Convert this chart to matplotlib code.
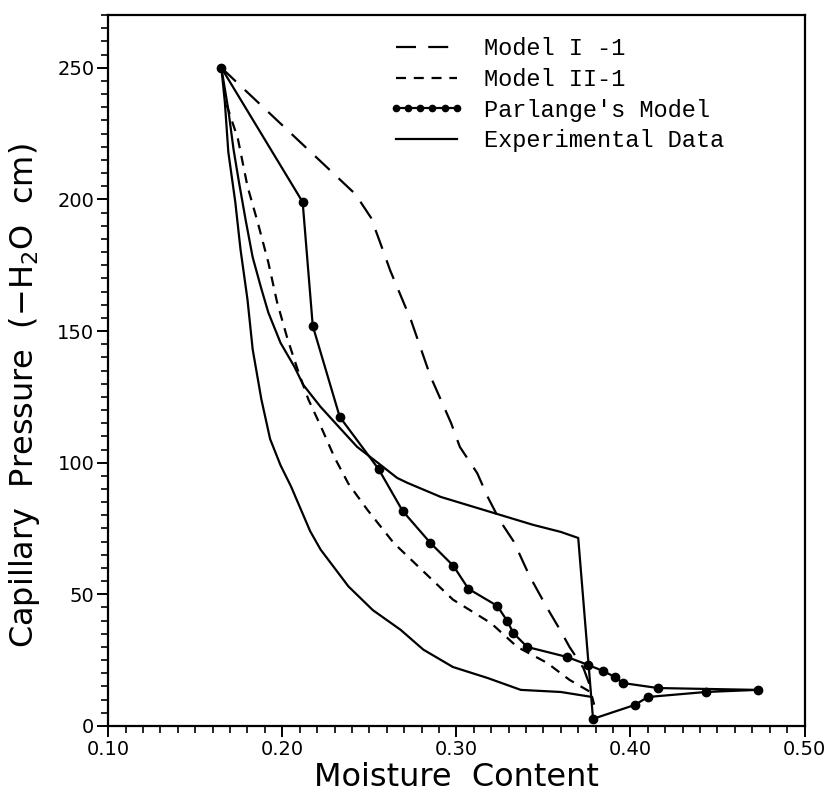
import numpy as np
import matplotlib.pyplot as plt
from matplotlib.ticker import MultipleLocator, FormatStrFormatter

# ── Data ────────────────────────────────────────────────────────

# Model I-1 (long dashes)
m1_theta = [0.165, 0.242, 0.251, 0.256, 0.262, 0.274, 0.285, 0.297, 0.302,
            0.312, 0.318, 0.325, 0.333, 0.342, 0.352, 0.360, 0.365, 0.373, 0.378]
m1_psi = [250, 202, 193, 184, 173, 154, 133, 115, 106,
          96, 87, 78, 70, 57, 45, 36, 30, 22, 13]

# Model II-1 (short dashes)
m2_theta = [0.168, 0.1745, 0.180, 0.186, 0.192, 0.197, 0.203, 0.209, 0.215,
            0.222, 0.230, 0.238, 0.249, 0.264, 0.279, 0.298, 0.320, 0.335,
            0.352, 0.365, 0.378]
m2_psi = [236, 223, 205, 191, 176, 161, 147, 135, 124,
          114, 102, 92, 82, 69.5, 60, 48, 39, 30,
          24, 17.5, 12.5]

# Parlange's model (drying branch then return to 0.38)
par_theta = [0.165, 0.2117, 0.2175, 0.233, 0.2553, 0.2691, 0.2851, 0.2983,
             0.3069, 0.3235, 0.3292, 0.3327, 0.3407, 0.3636, 0.3756, 0.3842,
             0.3911, 0.3957, 0.4158, 0.4730, 0.4433, 0.41, 0.4026, 0.3785]
par_psi = [250, 199, 152, 117.4, 97.6, 81.7, 69.5, 60.8,
           52.1, 45.6, 39.9, 35.3, 30.0, 26.2, 23.2, 20.9,
           18.6, 16.3, 14.4, 13.7, 12.9, 11.0, 8.0, 2.7]

# Experimental data: lower curve
expa_theta = [0.165, 0.167, 0.169, 0.173, 0.176, 0.180, 0.183, 0.188, 0.193,
              0.199, 0.205, 0.216, 0.222, 0.238, 0.252, 0.268, 0.281, 0.298,
              0.318, 0.337, 0.360, 0.378, 0.379]
expa_psi = [250, 237, 218, 199, 181, 162, 143, 124, 109,
            99, 91, 74, 67, 53, 44, 36.5, 29, 22.4,
            18.2, 13.7, 12.9, 11.0, 8.5]

# Experimental data: upper curve with the drop at 0.38
expb_theta = [0.165, 0.169, 0.172, 0.175, 0.179, 0.183, 0.188, 0.192, 0.199,
              0.207, 0.212, 0.222, 0.234, 0.243, 0.255, 0.266, 0.272, 0.291,
              0.310, 0.325, 0.344, 0.360, 0.370, 0.3785]
expb_psi = [250, 234, 219, 207, 192, 178, 166, 157, 145.5,
            136.4, 129.6, 121.2, 112.5, 106, 99.9, 94.2, 92.3, 87,
            83.2, 80.2, 76.4, 73.7, 71.4, 2.7]

LW = 1.6

fig = plt.figure(figsize=(8.26, 7.96), dpi=100)
ax = fig.add_axes([0.131, 0.088, 0.843, 0.893])

ax.plot(m1_theta, m1_psi, color="black", lw=LW, dashes=(9, 5.5),
        label="Model I -1")
ax.plot(m2_theta, m2_psi, color="black", lw=LW, dashes=(4.5, 3.5),
        label="Model II-1")
ax.plot(par_theta, par_psi, color="black", lw=LW, marker="o", markersize=6,
        label="Parlange's Model")
ax.plot(expa_theta, expa_psi, color="black", lw=LW, label="Experimental Data")
ax.plot(expb_theta, expb_psi, color="black", lw=LW)

# ── Axes ─────────────────────────────────────────────────────────
ax.set_xlim(0.10, 0.50)
ax.set_ylim(0, 270)
ax.xaxis.set_major_locator(MultipleLocator(0.1))
ax.xaxis.set_minor_locator(MultipleLocator(0.01))
ax.xaxis.set_major_formatter(FormatStrFormatter("%.2f"))
ax.yaxis.set_major_locator(MultipleLocator(50))
ax.yaxis.set_minor_locator(MultipleLocator(5))
ax.tick_params(which="major", direction="out", length=8, width=1.4,
               labelsize=14, pad=2)
ax.tick_params(which="minor", direction="out", length=5, width=1.2)
for sp in ax.spines.values():
    sp.set_linewidth(1.6)

ax.set_xlabel("Moisture  Content", fontsize=23, labelpad=2)
ax.set_ylabel("Capillary  Pressure  (\u2212H$_2$O  cm)", fontsize=23)
ax.yaxis.set_label_coords(-0.095, 0.465)

leg = ax.legend(loc="upper left", bbox_to_anchor=(0.372, 0.999),
                frameon=False, numpoints=6, markerscale=0.75,
                handlelength=3.2, handletextpad=0.85, labelspacing=0.33,
                prop={"family": ["Liberation Mono", "DejaVu Sans"],
                      "size": 17})

fig.savefig("out.png", dpi=100)
plt.close(fig)
